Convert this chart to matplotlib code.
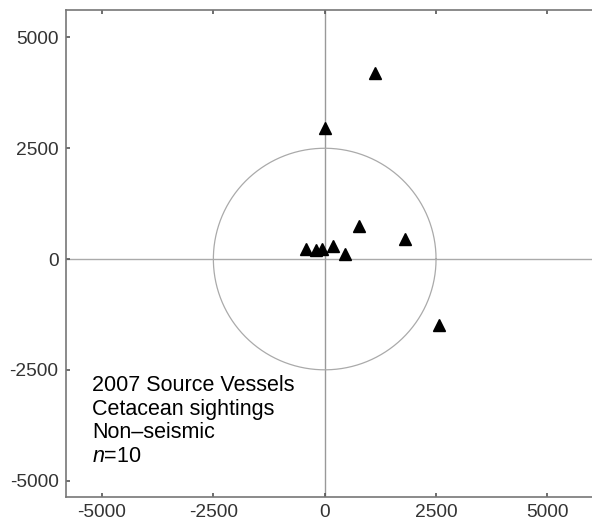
import numpy as np
import matplotlib
matplotlib.use("Agg")
import matplotlib.pyplot as plt

plt.rcParams["font.family"] = ["Liberation Sans", "DejaVu Sans"]
plt.rcParams["mathtext.fontset"] = "custom"
plt.rcParams["mathtext.it"] = "Liberation Sans:italic"
plt.rcParams["mathtext.rm"] = "Liberation Sans"

# ─── Sighting positions relative to source vessel (m) ─────────────────────────
sight_x = [1130, 0, -410, -190, -70, 180, 450, 765, 1800, 2560]
sight_y = [4190, 2960, 220, 215, 225, 290, 115, 745, 460, -1495]

ticks = [-5000, -2500, 0, 2500, 5000]
tick_labels = ["-5000", "-2500", "0", "2500", "5000"]
radius = 2500

label_lines = ["2007 Source Vessels", "Cetacean sightings", "Non\u2013seismic", "$n$=10"]

fig = plt.figure(figsize=(5.92, 5.24), dpi=100)
ax = fig.add_axes([65.5 / 592, 1 - 497 / 524, 1 - 65.5 / 592 + 0.001, 487 / 524])

ax.set_xlim(-5820, 6015)
ax.set_ylim(-5370, 5620)

# crosshair + 2500 m circle
ax.axhline(0, color="#aaaaaa", lw=1.0, zorder=1)
ax.axvline(0, color="#999999", lw=1.0, zorder=1)
theta = np.linspace(0, 2 * np.pi, 400)
ax.plot(radius * np.cos(theta), radius * np.sin(theta), color="#aaaaaa", lw=0.9, zorder=1)

ax.plot(sight_x, sight_y, linestyle="none", marker="^", ms=8, color="black", zorder=3)

ax.set_xticks(ticks)
ax.set_xticklabels(tick_labels)
ax.set_yticks(ticks)
ax.set_yticklabels(tick_labels)
ax.tick_params(direction="in", length=3, width=1.2, colors="#555555",
               labelcolor="#333333", labelsize=13.8, top=True, pad=5)

for side in ["left", "top", "bottom"]:
    ax.spines[side].set_color("#777777")
    ax.spines[side].set_linewidth(1.2)
ax.spines["right"].set_visible(False)

# caption block in lower-left (baseline = last line)
ax.text(-5220, -4580, "\n".join(label_lines), fontsize=15.5, va="baseline", ha="left",
        linespacing=1.17, color="black")

fig.savefig("out.png", dpi=100)
